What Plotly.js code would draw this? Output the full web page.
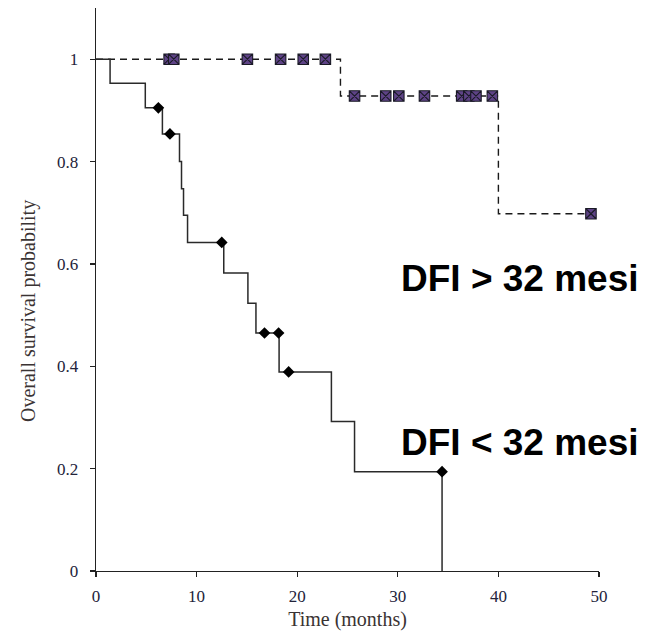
<!DOCTYPE html>
<html>
<head>
<meta charset="utf-8">
<script src="https://cdn.plot.ly/plotly-3.0.1.min.js"></script>
<style>html,body{margin:0;padding:0;background:#fff;}#chart{width:646px;height:634px;}</style>
</head>
<body>
<div id="chart"></div>
<script>
// DFI < 32 mesi (solid)
const lowTime = [0, 1.4, 4.9, 6.6, 8.3, 8.5, 8.7, 9.1, 12.7, 15.1, 15.9, 18.2, 23.4, 25.7, 34.4];
const lowSurv = [1, 0.953, 0.905, 0.854, 0.80, 0.747, 0.695, 0.642, 0.582, 0.523, 0.465, 0.389, 0.292, 0.194, 0];
const lowCensTime = [6.2, 7.35, 12.5, 16.75, 18.15, 19.15, 34.4];
const lowCensSurv = [0.905, 0.854, 0.642, 0.465, 0.465, 0.389, 0.194];

// DFI > 32 mesi (dashed)
const highTime = [0, 24.3, 40.0, 49.6];
const highSurv = [1, 0.928, 0.698, 0.698];
const highCensTime = [7.27, 7.73, 15.05, 18.35, 20.6, 22.8, 25.7, 28.8, 30.1, 32.65, 36.35, 37.06, 37.77, 39.4, 49.2];
const highCensSurv = [1, 1, 1, 1, 1, 1, 0.928, 0.928, 0.928, 0.928, 0.928, 0.928, 0.928, 0.928, 0.698];

const xTicks = [0, 10, 20, 30, 40, 50];
const yTicks = [0, 0.2, 0.4, 0.6, 0.8, 1];
const yTickText = ['0', '0.2', '0.4', '0.6', '0.8', '1'];
const labelHigh = 'DFI > 32 mesi';
const labelLow = 'DFI < 32 mesi';
const xTitle = 'Time (months)';
const yTitle = 'Overall survival probability';

const traces = [
  {x: highTime, y: highSurv, type: 'scatter', mode: 'lines', line: {shape: 'hv', color: '#1a1a1a', width: 1.4, dash: '7px,5px'}, hoverinfo: 'skip'},
  {x: lowTime, y: lowSurv, type: 'scatter', mode: 'lines', line: {shape: 'hv', color: '#2a2a2a', width: 1.5}, hoverinfo: 'skip'},
  {x: highCensTime, y: highCensSurv, type: 'scatter', mode: 'markers', marker: {symbol: 'square-x', size: 10.5, color: '#5e4386', line: {color: '#1a1a26', width: 1.1}}},
  {x: lowCensTime, y: lowCensSurv, type: 'scatter', mode: 'markers', marker: {symbol: 'diamond', size: 9, color: '#000'}}
];

const tickFont = {family: '"Liberation Serif", "DejaVu Serif", serif', size: 17, color: '#23233a'};
const titleFont = {family: '"Liberation Serif", "DejaVu Serif", serif', size: 20, color: '#3a3333'};
const labelFont = {family: '"Liberation Sans", Arial, sans-serif', size: 37, color: '#000', weight: 700};

const layout = {
  width: 646, height: 634,
  margin: {l: 96, r: 46.5, t: 8, b: 63},
  paper_bgcolor: '#fff', plot_bgcolor: '#fff',
  showlegend: false,
  xaxis: {
    range: [0, 50], tickvals: xTicks, ticktext: xTicks.map(String),
    showgrid: false, zeroline: false, showline: true, linecolor: '#222', linewidth: 1.3,
    ticks: 'outside', ticklen: 5, tickwidth: 1.2, tickcolor: '#222',
    tickfont: tickFont, ticklabelstandoff: 4,
    title: {text: xTitle, font: titleFont, standoff: 7}
  },
  yaxis: {
    range: [0, 1.1], tickvals: yTicks, ticktext: yTickText,
    showgrid: false, zeroline: false, showline: true, linecolor: '#222', linewidth: 1.3,
    ticks: 'outside', ticklen: 5, tickwidth: 1.2, tickcolor: '#222',
    tickfont: tickFont, ticklabelstandoff: 8
  },
  annotations: [
    {x: -0.133, y: 0.462, xref: 'paper', yref: 'paper', xanchor: 'center', yanchor: 'middle', textangle: -90,
     text: yTitle, showarrow: false, font: titleFont},
    {x: 30.1, y: 0.571, xref: 'x', yref: 'y', xanchor: 'left', yanchor: 'middle', text: labelHigh, showarrow: false, font: labelFont},
    {x: 30.1, y: 0.252, xref: 'x', yref: 'y', xanchor: 'left', yanchor: 'middle', text: labelLow, showarrow: false, font: labelFont}
  ]
};

Plotly.newPlot('chart', traces, layout, {displayModeBar: false, staticPlot: true});
</script>
</body>
</html>
